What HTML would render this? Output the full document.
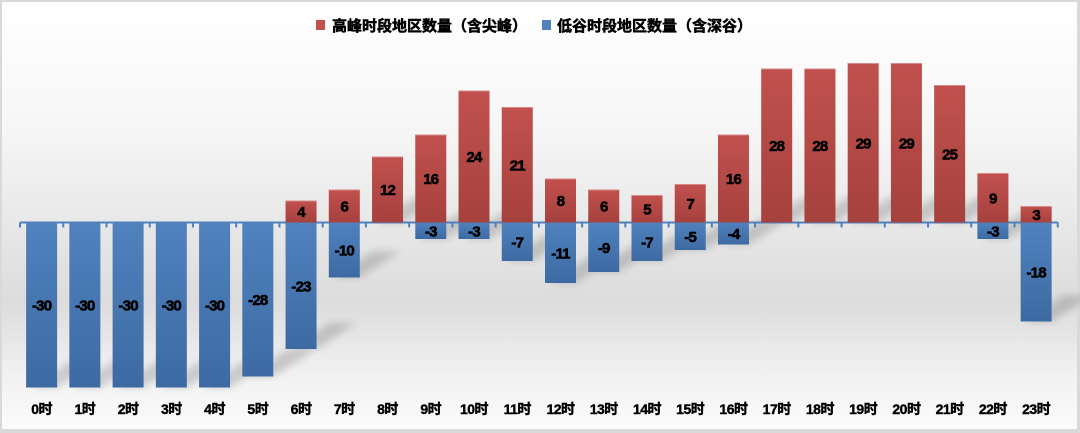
<!DOCTYPE html>
<html><head><meta charset="utf-8"><style>
html,body{margin:0;padding:0;background:#fff;}
svg{display:block;}
text{font-family:"Liberation Sans","Noto Sans CJK SC",sans-serif;font-weight:bold;fill:#000;}
.th{stroke:#000;stroke-width:0.6px;}
</style></head><body>
<svg width="1080" height="433" viewBox="0 0 1080 433" xmlns="http://www.w3.org/2000/svg">
<defs>
<linearGradient id="bg" x1="0" y1="0" x2="0" y2="1">
<stop offset="0" stop-color="#ffffff"/>
<stop offset="0.3" stop-color="#f6f6f6"/>
<stop offset="0.55" stop-color="#e6e6e6"/>
<stop offset="0.7" stop-color="#dcdcdc"/>
<stop offset="0.88" stop-color="#f2f2f2"/>
<stop offset="1" stop-color="#fbfbfb"/>
</linearGradient>
<linearGradient id="red" x1="0" y1="0" x2="0" y2="1">
<stop offset="0" stop-color="#c1514e"/>
<stop offset="1" stop-color="#a6413e"/>
</linearGradient>
<linearGradient id="blue" x1="0" y1="0" x2="0" y2="1">
<stop offset="0" stop-color="#5082be"/>
<stop offset="1" stop-color="#3d6aa2"/>
</linearGradient>
<filter id="blur" x="-50%" y="-50%" width="200%" height="200%"><feGaussianBlur stdDeviation="4"/></filter>
</defs>
<rect x="0" y="0" width="1080" height="433" fill="#d9d9d9"/>
<rect x="2" y="2" width="1075" height="427" fill="url(#bg)"/>
<!-- legend -->
<rect x="316" y="20" width="9" height="10" fill="#c0504d"/>
<text class="th" x="332" y="31" font-size="15" style="stroke-width:0.5px">高峰时段地区数量（含尖峰）</text>
<rect x="542" y="20" width="9" height="10" fill="#4f81bd"/>
<text class="th" x="557" y="31" font-size="15" style="stroke-width:0.5px">低谷时段地区数量（含深谷）</text>
<g id="shadows" filter="url(#blur)" opacity="0.16"></g>
<g id="chart"></g>
<script>
(function(){
var peak=[0,0,0,0,0,0,4,6,12,16,24,21,8,6,5,7,16,28,28,29,29,25,9,3];
var val=[-30,-30,-30,-30,-30,-28,-23,-10,0,-3,-3,-7,-11,-9,-7,-5,-4,0,0,0,0,0,-3,-18];
var x0=20,cw=43.24,bw=31,ay=222.5,s=5.5;
var ns="http://www.w3.org/2000/svg";
var g=document.getElementById("chart");
var sg=document.getElementById("shadows");
function el(t,a,txt,p){var e=document.createElementNS(ns,t);for(var k in a)e.setAttribute(k,a[k]);if(txt!=null)e.textContent=txt;(p||g).appendChild(e);return e;}
// shadows
for(var i=0;i<24;i++){
 var bx=x0+i*cw+(cw-bw)/2;
 var b=null;
 if(val[i]<0)b=ay-val[i]*s; else if(peak[i]>0)b=ay;
 if(b!==null){
  var dx=40,dy=26;
  el("polygon",{points:(bx+4)+","+b+" "+(bx+bw)+","+b+" "+(bx+bw+dx)+","+(b-dy)+" "+(bx+dx+4)+","+(b-dy),fill:"#000"},null,sg);
 }
}
// axis
el("line",{x1:x0,y1:ay,x2:x0+24*cw,y2:ay,stroke:"#4f81bd","stroke-width":2});
for(var i=0;i<=24;i++){var tx=x0+i*cw;el("line",{x1:tx,y1:ay,x2:tx,y2:ay+5,stroke:"#4f81bd","stroke-width":2});}
for(var i=0;i<24;i++){
 var bx=x0+i*cw+(cw-bw)/2;
 if(peak[i]>0){var h=peak[i]*s;el("rect",{x:bx,y:ay-h,width:bw,height:h,fill:"url(#red)"});
  el("line",{x1:bx,y1:ay-h+0.5,x2:bx+bw,y2:ay-h+0.5,stroke:"#d88886","stroke-width":1});}
 if(val[i]<0){var h2=-val[i]*s;el("rect",{x:bx,y:ay,width:bw,height:h2,fill:"url(#blue)"});}
}
for(var i=0;i<24;i++){
 var cx=x0+i*cw+cw/2;
 if(peak[i]>0){var h=peak[i]*s;el("text",{"class":"th",x:cx,y:ay-h/2+5.5,"font-size":15,"text-anchor":"middle","letter-spacing":"-0.8"},String(peak[i]));}
 if(val[i]<0){var h2=-val[i]*s;el("text",{"class":"th",x:cx,y:ay+h2/2+5.5,"font-size":15,"text-anchor":"middle","letter-spacing":"-0.8"},String(val[i]));}
 el("text",{"class":"th",x:cx,y:414,"font-size":14,"text-anchor":"middle",style:"stroke-width:0.4px","letter-spacing":"-0.5"},i+"时");
}
})();
</script>
</svg>
</body></html>
